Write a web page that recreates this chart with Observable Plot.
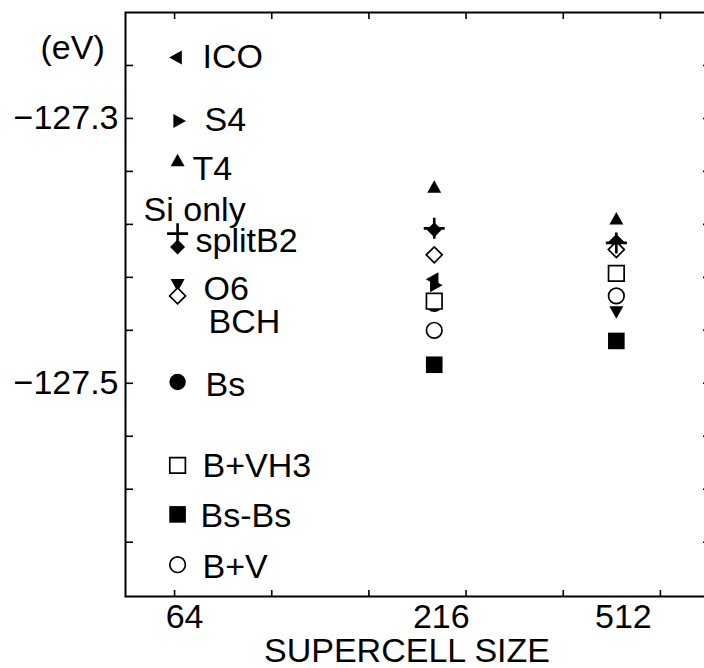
<!DOCTYPE html>
<html><head><meta charset="utf-8">
<script src="https://cdn.jsdelivr.net/npm/d3@7"></script>
<script src="https://cdn.jsdelivr.net/npm/@observablehq/plot@0.6"></script>
<style>html,body{margin:0;padding:0;background:#fff;overflow:hidden}</style>
</head><body><div id="chart"></div>
<script>
// Supercell sizes (x, log scale)
const sizes = [64, 216, 512];
// Energies (eV) per configuration at 64, 216, 512 atoms (null = not shown)
const ICO     = [-127.254, -127.4215, null];
const S4      = [-127.302, -127.426, null];
const T4      = [-127.333, -127.353, -127.377];
const SiOnly  = [-127.387, -127.383, -127.394];
const splitB2 = [-127.397, -127.384, -127.393];
const O6      = [-127.4245, null, -127.445];
const BCH     = [-127.434, -127.403, -127.399];
const Bs      = [-127.499, -127.440, null];
const BVH3    = [-127.562, -127.438, -127.417];
const BsBs    = [-127.599, -127.486, -127.468];
const BV      = [-127.637, -127.460, -127.434];

const seriesNames = ["ICO","S4","T4","Si only","splitB2","O6","BCH","Bs","B+VH3","Bs-Bs","B+V"];
const seriesValues = [ICO, S4, T4, SiOnly, splitB2, O6, BCH, Bs, BVH3, BsBs, BV];
// label positions (eV) beside the 64-atom markers
const labelEnergy = [-127.254, -127.3015, -127.338, -127.3695, -127.393, -127.429, -127.454, -127.5015, -127.5626, -127.600, -127.639];

// Axis ticks
const xTickExponents = [1.8, 2.0, 2.2, 2.4, 2.6, 2.8];
const xTickLabels = [64, 216, 512];
const yTicks = [-127.26, -127.30, -127.34, -127.38, -127.42, -127.46, -127.50, -127.54, -127.58, -127.62];
const yTickLabels = [-127.3, -127.5];
const yUnit = "(eV)";
const xTitle = "SUPERCELL SIZE";

// ---- layout / style (not data) ----
const labelDx = [25, 27, 15, -34, 18, 26, 31, 28, 25, 23, 25];
function tri(angle) {
  return {draw(ctx, size) {
    const r = Math.sqrt(size / Math.PI), h = r * 1.8;
    const c = Math.cos(angle), s = Math.sin(angle);
    const pts = [[0, -2*h/3], [-r, h/3], [r, h/3]].map(([x, y]) => [x*c - y*s, x*s + y*c]);
    ctx.moveTo(pts[0][0], pts[0][1]); ctx.lineTo(pts[1][0], pts[1][1]); ctx.lineTo(pts[2][0], pts[2][1]); ctx.closePath();
  }};
}
const triUp = tri(0), triDown = tri(Math.PI), triLeft = tri(-Math.PI/2), triRight = tri(Math.PI/2);
const sq = {draw(ctx, size) { const r = Math.sqrt(size/Math.PI); ctx.rect(-r, -r, 2*r, 2*r); }};
const dia = {draw(ctx, size) { const r = Math.sqrt(size/Math.PI); ctx.moveTo(0,-r); ctx.lineTo(r,0); ctx.lineTo(0,r); ctx.lineTo(-r,0); ctx.closePath(); }};
const plus = {draw(ctx, size) { const r = Math.sqrt(size/Math.PI); ctx.moveTo(-r,0); ctx.lineTo(r,0); ctx.moveTo(0,-r); ctx.lineTo(0,r); }};
const markerStyle = {
  "ICO":     {symbol: triLeft,  r: 7,   kind: "filled"},
  "S4":      {symbol: triRight, r: 7,   kind: "filled"},
  "T4":      {symbol: triUp,    r: 7,   kind: "filled"},
  "Si only": {symbol: plus,     r: 10.5, kind: "line"},
  "splitB2": {symbol: dia,      r: 7.5, kind: "filled"},
  "O6":      {symbol: triDown,  r: 7,   kind: "filled"},
  "BCH":     {symbol: dia,      r: 8,   kind: "open"},
  "Bs":      {symbol: "circle", r: 8.2, kind: "filled"},
  "B+VH3":   {symbol: sq,       r: 7.8, kind: "open"},
  "Bs-Bs":   {symbol: sq,       r: 8.3, kind: "filled"},
  "B+V":     {symbol: "circle", r: 7.8, kind: "open"}
};
const drawOrder = ["T4","S4","ICO","O6","Bs","splitB2","BCH","Si only","B+VH3","B+V","Bs-Bs"];

const rows = [];
seriesNames.forEach((name, k) => seriesValues[k].forEach((v, i) => {
  if (v != null) rows.push({series: name, size: sizes[i], energy: v});
}));

const FS = 34;
const marks = [];
marks.push(Plot.frame({stroke: "black", strokeWidth: 2}));
const tickOpts = {tickSize: 7, tickFormat: () => "", label: null, strokeWidth: 1.6};
marks.push(Plot.axisY({...tickOpts, ticks: yTicks, anchor: "right", frameAnchor: "left"}));
marks.push(Plot.axisY({...tickOpts, ticks: yTicks, anchor: "left", frameAnchor: "right"}));
const xt = xTickExponents.map(e => 10 ** e);
marks.push(Plot.axisX({...tickOpts, ticks: xt, anchor: "top", frameAnchor: "bottom"}));
marks.push(Plot.axisX({...tickOpts, ticks: xt, anchor: "bottom", frameAnchor: "top"}));
marks.push(Plot.axisY({ticks: yTickLabels, anchor: "left", tickSize: 0, tickPadding: 7, fontSize: FS, tickFormat: d3.format(".1f"), label: null}));
marks.push(Plot.axisX({ticks: xTickLabels, anchor: "bottom", tickSize: 0, tickPadding: 7, fontSize: FS, tickFormat: d => String(d), label: null, dx: 7}));

for (const name of drawOrder) {
  const st = markerStyle[name];
  const data = rows.filter(d => d.series === name);
  const o = {x: "size", y: "energy", symbol: st.symbol, r: st.r};
  if (st.kind === "filled") Object.assign(o, {fill: "black", stroke: "none"});
  else if (st.kind === "open") Object.assign(o, {fill: "white", stroke: "black", strokeWidth: 1.7});
  else Object.assign(o, {fill: "none", stroke: "black", strokeWidth: 2.6});
  marks.push(Plot.dot(data, o));
}

seriesNames.forEach((name, i) => {
  marks.push(Plot.text([name], {x: () => sizes[0], y: () => labelEnergy[i], text: d => d, dx: labelDx[i], textAnchor: "start", lineAnchor: "middle", fontSize: FS}));
});
marks.push(Plot.text([yUnit], {frameAnchor: "top-left", dx: -85, dy: 36, text: d => d, textAnchor: "start", lineAnchor: "middle", fontSize: FS}));
marks.push(Plot.text([xTitle], {frameAnchor: "bottom", dx: -11, dy: 55, text: d => d, textAnchor: "middle", lineAnchor: "middle", fontSize: FS}));

const chart = Plot.plot({
  width: 704, height: 668,
  marginLeft: 125, marginRight: -6, marginTop: 12, marginBottom: 72,
  x: {type: "log", domain: [50, 800]},
  y: {domain: [-127.661, -127.22]},
  style: {fontFamily: "'Liberation Sans', Arial, Helvetica, sans-serif", background: "white", color: "black"},
  marks
});
document.getElementById("chart").appendChild(chart);
</script>
</body></html>
